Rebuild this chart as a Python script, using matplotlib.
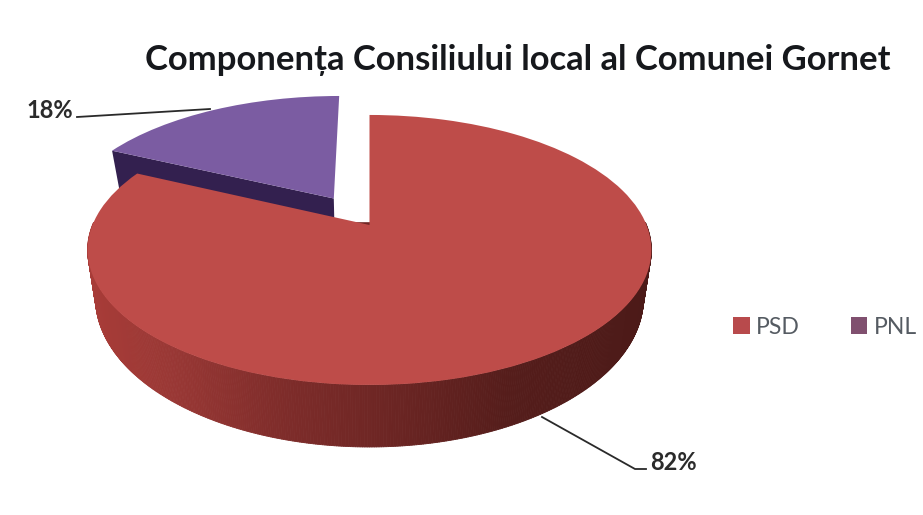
import numpy as np
import matplotlib
matplotlib.use("Agg")
import matplotlib.pyplot as plt
from matplotlib.collections import PolyCollection
from matplotlib.colors import LinearSegmentedColormap
from matplotlib.patches import Patch
from matplotlib.transforms import Transform

plt.rcParams['font.family'] = ['Lato', 'DejaVu Sans']

TITLE = "Componența Consiliului local al Comunei Gornet"
parties = ["PSD", "PNL"]
shares = [82, 18]
share_labels = ["82%", "18%"]
explode = [0, 0.25]
top_colors = ["#BE4C49", "#7B5CA2"]
legend_colors = ["#B84A4C", "#80506F"]
wall_dark = "#33204F"

# geometry of the tilted disc, in output pixels
CX, CY, BX, BY, K = 369.5, 225.0, 277.0, 130.4, 0.185
SHRINK, DEPTH, DEPTH_E = 0.972, 45.6, 1.5


class Perspective(Transform):
    input_dims = output_dims = 2
    is_affine = False
    has_inverse = False

    def transform_non_affine(self, values):
        values = np.asarray(values, float)
        u, v = values[:, 0], values[:, 1]
        w = 1 + K * v
        return np.column_stack([CX + BX * u / w, CY - BY * v / w])


persp = Perspective()


def lower(uv):
    """Point on the underside of the disc, in pixels."""
    uv = np.atleast_2d(uv)
    p = persp.transform_non_affine(uv)
    p[:, 0] = CX + (p[:, 0] - CX) * SHRINK
    p[:, 1] += DEPTH / (1 + K * uv[:, 1]) ** DEPTH_E
    return p


fig = plt.figure(figsize=(9.23, 5.15), dpi=100, facecolor="white")
ax = fig.add_axes([0, 0, 1, 1])
wedges, _ = ax.pie(shares, explode=explode, startangle=90, counterclock=False,
                   colors=top_colors, radius=1)
ax.set_aspect("auto")
ax.set_xlim(0, 923)
ax.set_ylim(515, 0)
ax.axis("off")

for w in wedges:
    w.set_transform(persp + ax.transData)
    w.set_linewidth(0)

psd, pnl = wedges
psd.set_zorder(6)
pnl.set_zorder(3)

# side wall of the PNL slice (radial face toward the viewer)
c = np.array(pnl.center)
ang = np.radians(pnl.theta2)
corner = c + np.array([np.cos(ang), np.sin(ang)])
face = np.vstack([persp.transform_non_affine(np.array([corner, c])),
                  lower(np.array([c, corner]))])
ax.fill(face[:, 0], face[:, 1], color=wall_dark, lw=0, zorder=2)

# side wall of the PSD slice: shaded strip around the front of the rim
wall_cmap = LinearSegmentedColormap.from_list(
    "wall", [(0.0, "#A83C38"), (0.14, "#9A3835"), (0.35, "#7E2C2A"),
             (0.55, "#6B2523"), (0.75, "#551D1B"), (1.0, "#4C1A18")])
th = np.radians(np.linspace(psd.theta1, psd.theta2, 721))
rim = np.column_stack([np.cos(th), np.sin(th)])
rim = rim[rim[:, 1] < 0.02]
order = np.argsort(np.arctan2(rim[:, 1], rim[:, 0]) % (2 * np.pi))
rim = rim[order]
ptop, pbot = persp.transform_non_affine(rim), lower(rim)
quads = [[ptop[i], ptop[i + 1], pbot[i + 1], pbot[i]] for i in range(len(rim) - 1)]
xmid = (ptop[:-1, 0] + ptop[1:, 0]) / 2
cols = wall_cmap((xmid - 88) / (652 - 88))
ax.add_collection(PolyCollection(quads, facecolors=cols, edgecolors=cols,
                                 linewidths=0.6, zorder=5))

# leader lines and percentage labels
ax.plot([77, 210], [117, 109], color="#2A2A2A", lw=1.3, zorder=8)
ax.plot([542, 635, 646], [417, 469, 469], color="#2A2A2A", lw=1.3, zorder=4)
ax.text(50, 110, share_labels[1], ha="center", va="center", fontsize=17,
        fontweight="bold", color="#2B2B2B", zorder=9)
ax.text(673, 463, share_labels[0], ha="center", va="center", fontsize=17,
        fontweight="bold", color="#2B2B2B", zorder=9)

ax.text(517.5, 60, TITLE, ha="center", va="center", fontsize=24.9,
        fontweight="bold", color="#16181C", zorder=9)

handles = [Patch(facecolor=col, edgecolor="none", label=lab)
           for col, lab in zip(legend_colors, parties)]
ax.legend(handles=handles, loc="center left", bbox_to_anchor=(733, 327),
          bbox_transform=ax.transData, ncol=2, frameon=False, fontsize=16.5,
          labelcolor="#555B62", handlelength=0.72, handleheight=0.72,
          handletextpad=0.3, columnspacing=2.2, borderpad=0, borderaxespad=0)

fig.savefig("out.png", dpi=100, facecolor="white")
